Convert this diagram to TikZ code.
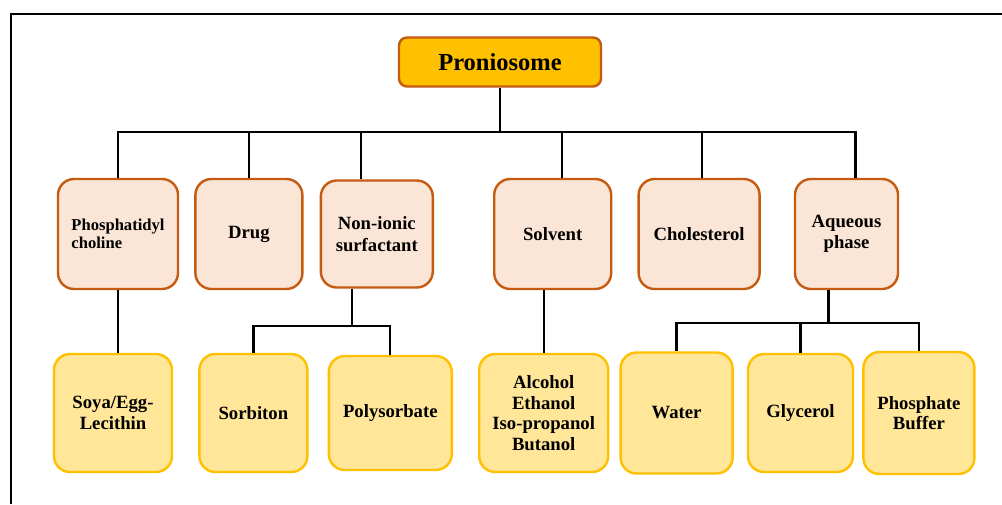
\documentclass[tikz,border=0pt]{standalone}
\usepackage{fontspec}
\setmainfont{Liberation Serif}
\usepackage{xcolor}
\usetikzlibrary{positioning,calc}

\definecolor{rootfill}{HTML}{FFC000}
\definecolor{orgline}{HTML}{C55A11}
\definecolor{catfill}{HTML}{FBE5D6}
\definecolor{itemfill}{HTML}{FFE699}
\definecolor{itemline}{HTML}{FFC000}

\begin{document}
\begin{tikzpicture}[
    x=1pt, y=-1pt,
    root/.style={draw=orgline, line width=2.4pt, rounded corners=8pt, fill=rootfill,
                 minimum width=202pt, minimum height=49pt,
                 font=\fontsize{24.5}{28}\selectfont\bfseries},
    cat/.style={draw=orgline, line width=2.4pt, rounded corners=16pt, fill=catfill,
                minimum width=113pt, minimum height=110pt, inner sep=2pt,
                font=\fontsize{18.7}{21.5}\selectfont\bfseries, align=center},
    item/.style={draw=itemline, line width=2.4pt, rounded corners=16pt, fill=itemfill,
                 minimum width=113pt, minimum height=118pt, inner sep=2pt,
                 font=\fontsize{18.7}{20.5}\selectfont\bfseries, align=center},
    link/.style={line width=2.3pt, black}
]
    \useasboundingbox (0,0) rectangle (1002,504);

    % Frame
    \draw[line width=2.6pt] (11,504) -- (11,14) -- (1002,14);

    % Root
    \node[root] (pro) at (500,62) {Proniosome};

    % Components
    \node[cat, minimum width=120pt, align=left, font=\fontsize{16.6}{18.5}\selectfont\bfseries]
        (phos) at (118,234) {Phosphatidyl\\choline};
    \node[cat, right=15pt of phos, minimum width=107pt] (drug) {Drug};
    \node[cat, right=16pt of drug, minimum width=112pt, minimum height=107pt] (surf) {Non-ionic\\surfactant};
    \node[cat, right=59pt of surf, minimum width=117pt] (solv) {Solvent};
    \node[cat, right=25pt of solv, minimum width=121pt] (chol) {Cholesterol};
    \node[cat, right=33pt of chol, minimum width=103pt] (aq) {Aqueous\\phase};

    % Examples
    \node[item, minimum width=118pt] (soya) at (113,413) {Soya/Egg-\\Lecithin};
    \node[item, right=25pt of soya, minimum width=108pt] (sorb) {Sorbiton};
    \node[item, right=19pt of sorb, minimum width=123pt, minimum height=114pt] (poly) {Polysorbate};
    \node[item, right=25pt of poly, minimum width=129pt] (alc) {Alcohol\\Ethanol\\Iso-propanol\\Butanol};
    \node[item, right=10pt of alc, minimum width=112pt, minimum height=121pt] (water) {Water};
    \node[item, right=13pt of water, minimum width=105pt] (gly) {Glycerol};
    \node[item, right=8pt of gly, minimum width=111pt, minimum height=122pt] (buf) {Phosphate\\Buffer};

    % Main bus
    \coordinate (bus) at ([yshift=-44pt]pro.south);
    \draw[link] (pro) -- (bus);
    \draw[link] (phos.north) |- (bus) -| ([xshift=9pt]aq.north);
    \foreach \n/\s in {drug/0,surf/-16,solv/9,chol/3}
        \draw[link] ([xshift=\s pt]\n.north) -- ([xshift=\s pt]\n.north |- bus);

    % Branches
    \draw[link] (phos.south) -- (phos.south |- soya.north);
    \draw[link] ([xshift=-25pt]surf.south) -- ++(0,37) coordinate (sbus);
    \draw[link] (sorb.north) |- (sbus) -| (poly.north);
    \draw[link] (alc.north) -- (alc.north |- solv.south);
    \draw[link] ([xshift=-18pt]aq.south) -- ++(0,33) coordinate (abus);
    \draw[link] (water.north) |- (abus) -| (buf.north);
    \draw[link] (gly.north) -- (gly.north |- abus);

\end{tikzpicture}
\end{document}
